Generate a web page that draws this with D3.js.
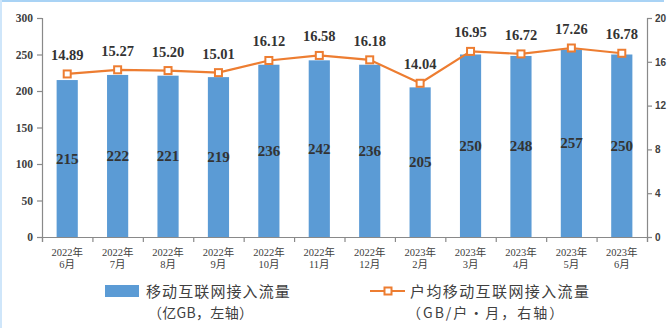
<!DOCTYPE html>
<html><head><meta charset="utf-8">
<script src="https://cdn.jsdelivr.net/npm/d3@7"></script>
<style>body{margin:0;background:#fff}svg{display:block}</style>
</head><body>
<svg id="c" width="670" height="328"></svg>
<script>
const categories = [["2022年","6月"],["2022年","7月"],["2022年","8月"],["2022年","9月"],["2022年","10月"],["2022年","11月"],["2022年","12月"],["2023年","2月"],["2023年","3月"],["2023年","4月"],["2023年","5月"],["2023年","6月"]];
const traffic = [215,222,221,219,236,242,236,205,250,248,257,250];
const perUser = [14.89,15.27,15.20,15.01,16.12,16.58,16.18,14.04,16.95,16.72,17.26,16.78];
const leftTicks = [0,50,100,150,200,250,300];
const rightTicks = [0,4,8,12,16,20];
const legendBar = ["移动互联网接入流量","（亿GB，左轴）"];
const legendLine = ["户均移动互联网接入流量","（GB/户·月，右轴）"];

const svg = d3.select("#c");
const L = 42, R = 647, T = 18, B = 237;
const x = d3.scaleBand().domain(d3.range(categories.length)).range([L, R]).paddingInner(0.58).paddingOuter(0.29);
const xb = d3.scaleLinear().domain([0, categories.length]).range([L, R]);
const yL = d3.scaleLinear().domain([0,300]).range([B, T]);
const yR = d3.scaleLinear().domain([0,20]).range([B, T]);

// frame
svg.append("rect").attr("x",0).attr("y",0).attr("width",664).attr("height",2).attr("fill","#a9d3f5");
svg.append("rect").attr("x",0).attr("y",0).attr("width",2).attr("height",328).attr("fill","#cfe6fa");

// bars
svg.selectAll("rect.bar").data(traffic).join("rect").attr("class","bar")
  .attr("x",(d,i)=>x(i)).attr("width",x.bandwidth())
  .attr("y",d=>yL(d)).attr("height",d=>B-yL(d)).attr("fill","#5b9bd5");

// axes
const gL = svg.append("g").attr("transform",`translate(${L},0)`)
  .call(d3.axisLeft(yL).tickValues(leftTicks).tickSize(5).tickPadding(4));
const gR = svg.append("g").attr("transform",`translate(${R},0)`)
  .call(d3.axisRight(yR).tickValues(rightTicks).tickSize(5).tickPadding(3));
const gX = svg.append("g").attr("transform",`translate(0,${B})`)
  .call(d3.axisBottom(xb).tickValues(d3.range(categories.length+1)).tickSize(5).tickFormat(""));
[gL,gR,gX].forEach(g=>{
  g.select(".domain").attr("stroke","#898989").attr("stroke-width",1.2);
  g.selectAll(".tick line").attr("stroke","#898989").attr("stroke-width",1.2);
});
gL.selectAll(".tick text").attr("font-family","Liberation Serif, serif").attr("font-size",11.5).attr("font-weight","bold").attr("fill","#404040");
gR.selectAll(".tick text").attr("font-family","Liberation Sans, sans-serif").attr("font-size",10).attr("font-weight","bold").attr("fill","#404040");

// x labels
const xl = svg.append("g");
categories.forEach((c,i)=>{
  const cx = x(i)+x.bandwidth()/2;
  const t = xl.append("text").attr("x",cx).attr("text-anchor","middle")
    .attr("font-family","Liberation Serif, 'Noto Sans CJK SC', serif").attr("font-size",10.5).attr("fill","#404040");
  t.append("tspan").attr("x",cx).attr("y",256).text(c[0]);
  t.append("tspan").attr("x",cx).attr("y",268).text(c[1]);
});

// bar labels
svg.selectAll("text.bl").data(traffic).join("text").attr("class","bl")
  .attr("x",(d,i)=>x(i)+x.bandwidth()/2).attr("y",d=>(yL(d)+B)/2+5)
  .attr("text-anchor","middle").attr("font-family","Liberation Serif, serif")
  .attr("font-size",15).attr("font-weight","bold").attr("fill","#333").text(d=>d);

// line
const line = d3.line().x((d,i)=>x(i)+x.bandwidth()/2).y(d=>yR(d));
svg.append("path").datum(perUser).attr("d",line).attr("fill","none").attr("stroke","#ed7d31").attr("stroke-width",2.2);
svg.selectAll("rect.mk").data(perUser).join("rect").attr("class","mk")
  .attr("x",(d,i)=>x(i)+x.bandwidth()/2-3.5).attr("y",d=>yR(d)-3.5).attr("width",7).attr("height",7)
  .attr("fill","#fff").attr("stroke","#ed7d31").attr("stroke-width",2);
svg.selectAll("text.ll").data(perUser).join("text").attr("class","ll")
  .attr("x",(d,i)=>x(i)+x.bandwidth()/2).attr("y",d=>yR(d)-14)
  .attr("text-anchor","middle").attr("font-family","Liberation Serif, serif")
  .attr("font-size",14.5).attr("font-weight","bold").attr("fill","#333").text(d=>d.toFixed(2));

// legend
const lg = svg.append("g").attr("font-family","'Noto Sans CJK SC', sans-serif").attr("fill","#404040");
lg.append("rect").attr("x",105).attr("y",285).attr("width",34).attr("height",12).attr("fill","#5b9bd5");
lg.append("text").attr("x",146).attr("y",297).attr("font-size",15).attr("letter-spacing",1.1).text(legendBar[0]);
lg.append("text").attr("x",148).attr("y",318).attr("font-size",14).attr("letter-spacing",0.3).text(legendBar[1]);
lg.append("line").attr("x1",370).attr("x2",405).attr("y1",291).attr("y2",291).attr("stroke","#ed7d31").attr("stroke-width",2.2);
lg.append("rect").attr("x",384.5).attr("y",287.5).attr("width",7).attr("height",7).attr("fill","#fff").attr("stroke","#ed7d31").attr("stroke-width",2);
lg.append("text").attr("x",410).attr("y",297).attr("font-size",15).attr("letter-spacing",1.4).text(legendLine[0]);
lg.append("text").attr("x",407).attr("y",318).attr("font-size",14).attr("letter-spacing",2).text(legendLine[1]);
</script>
</body></html>
